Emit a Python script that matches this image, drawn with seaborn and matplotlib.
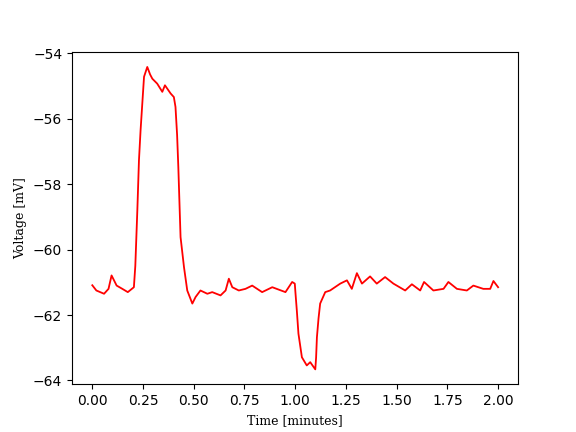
import numpy as np
import pandas as pd
import matplotlib
matplotlib.use('Agg')
import matplotlib.pyplot as plt
import seaborn as sns

# values
time_min = [0.000, 0.020, 0.058, 0.080, 0.095, 0.120, 0.148, 0.175, 0.205, 0.212,
            0.222, 0.230, 0.238, 0.255, 0.271, 0.285, 0.296, 0.320, 0.345, 0.358,
            0.386, 0.402, 0.410, 0.418, 0.424, 0.435, 0.452, 0.468, 0.493, 0.509,
            0.533, 0.567, 0.591, 0.632, 0.657, 0.673, 0.690, 0.722, 0.755, 0.788,
            0.837, 0.887, 0.952, 0.985, 0.998, 1.001, 1.008, 1.016, 1.033, 1.057,
            1.074, 1.099, 1.103, 1.107, 1.115, 1.123, 1.148, 1.172, 1.222, 1.255,
            1.279, 1.304, 1.329, 1.369, 1.402, 1.443, 1.484, 1.542, 1.575, 1.616,
            1.635, 1.681, 1.731, 1.755, 1.797, 1.846, 1.878, 1.927, 1.961, 1.977,
            2.000]
voltage_mv = [-61.09, -61.25, -61.35, -61.20, -60.79, -61.10, -61.20, -61.30, -61.15, -60.50,
              -58.80, -57.27, -56.35, -54.72, -54.42, -54.65, -54.78, -54.93, -55.18, -54.98,
              -55.23, -55.34, -55.64, -56.50, -57.48, -59.62, -60.54, -61.25, -61.65, -61.45,
              -61.25, -61.35, -61.30, -61.40, -61.25, -60.89, -61.15, -61.25, -61.20, -61.10,
              -61.30, -61.15, -61.30, -60.99, -61.04, -61.30, -61.86, -62.57, -63.29, -63.54,
              -63.44, -63.66, -63.30, -62.68, -62.10, -61.65, -61.30, -61.25, -61.04, -60.94,
              -61.20, -60.72, -61.04, -60.82, -61.04, -60.84, -61.04, -61.25, -61.06, -61.25,
              -60.99, -61.25, -61.20, -60.99, -61.20, -61.25, -61.10, -61.20, -61.20, -60.96,
              -61.15]

df = pd.DataFrame({'t': time_min, 'v': voltage_mv})

fig, ax = plt.subplots(figsize=(5.76, 4.32), dpi=100)
sns.lineplot(data=df, x='t', y='v', color='red', linewidth=1.3, sort=False, ax=ax)
ax.set_xlabel('Time [minutes]', fontfamily='DejaVu Serif', fontsize=9)
ax.set_ylabel('Voltage [mV]', fontfamily='DejaVu Serif', fontsize=9)
ax.set_xticks([0.0, 0.25, 0.5, 0.75, 1.0, 1.25, 1.5, 1.75, 2.0])
ax.set_yticks([-64, -62, -60, -58, -56, -54])
plt.savefig('out.png', dpi=100)
